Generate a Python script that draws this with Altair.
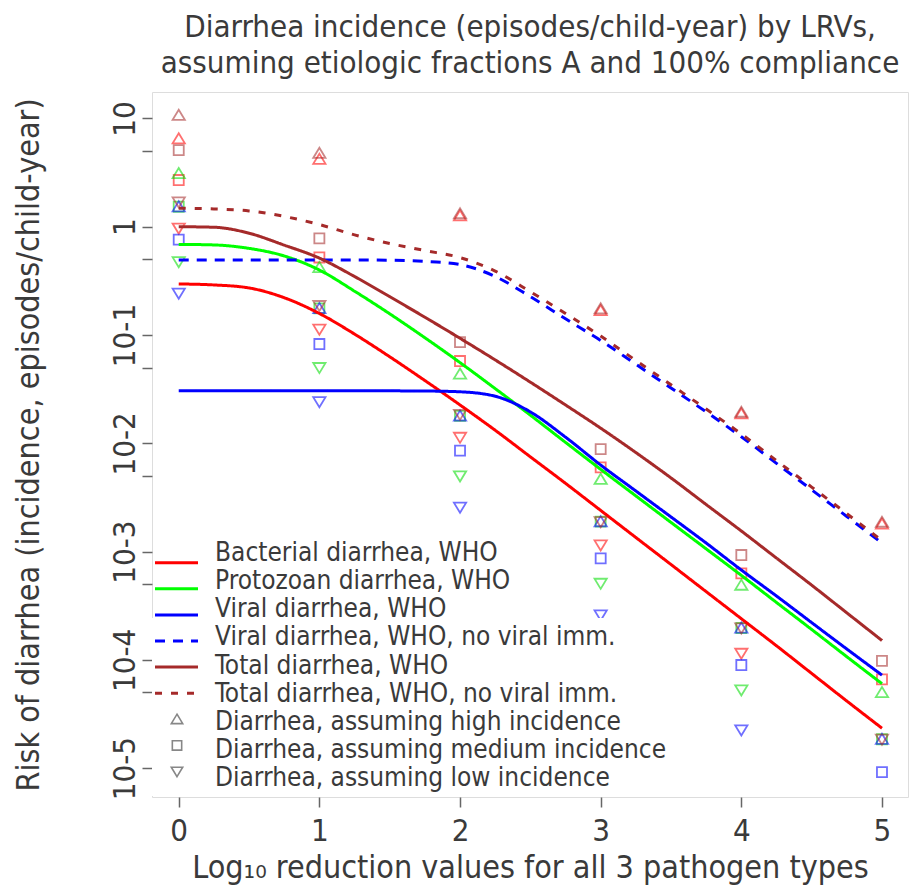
import altair as alt
import pandas as pd

# ---------------------------------------------------------------- data
# Log10 reduction values at which the model curves are read
X_GRID = [0, 0.25, 0.5, 0.75, 1, 1.25, 1.5, 1.75, 2, 2.25, 2.5, 2.75,
          3, 3.25, 3.5, 3.75, 4, 4.25, 4.5, 4.75, 5]

# Incidence (episodes/child-year), WHO model curves
BACTERIAL_WHO = [0.296, 0.290, 0.272, 0.221, 0.158, 0.102, 0.063, 0.038,
                 0.0226, 0.0132, 0.0075, 0.00427, 0.0024, 0.00135, 7.6e-4,
                 4.27e-4, 2.4e-4, 1.35e-4, 7.5e-5, 4.17e-5, 2.34e-5]
PROTOZOAN_WHO = [0.687, 0.679, 0.631, 0.537, 0.398, 0.254, 0.157, 0.0944,
                 0.0556, 0.032, 0.0182, 0.0102, 0.00575, 0.00327, 0.00186,
                 0.00106, 6.03e-4, 3.39e-4, 1.91e-4, 1.07e-4, 6.03e-5]
VIRAL_WHO = [0.0305, 0.0305, 0.0305, 0.0305, 0.0305, 0.0305, 0.0305, 0.0304,
             0.0299, 0.0272, 0.0195, 0.0114, 0.0063, 0.00363, 0.00209,
             0.0012, 6.76e-4, 3.89e-4, 2.21e-4, 1.26e-4, 7.24e-5]
VIRAL_NO_IMM = [0.493, 0.493, 0.493, 0.493, 0.493, 0.493, 0.49, 0.479,
                0.447, 0.347, 0.226, 0.141, 0.0891, 0.0537, 0.0324, 0.0195,
                0.0115, 0.00653, 0.00372, 0.00211, 0.0012]
TOTAL_WHO = [1.0, 0.989, 0.871, 0.676, 0.513, 0.347, 0.226, 0.146, 0.0933,
             0.0589, 0.0367, 0.0226, 0.0138, 0.00822, 0.00479, 0.00272,
             0.00155, 8.71e-4, 4.9e-4, 2.72e-4, 1.51e-4]
TOTAL_NO_IMM = [1.48, 1.46, 1.40, 1.245, 1.047, 0.841, 0.70, 0.603, 0.519,
                0.389, 0.251, 0.158, 0.0977, 0.0582, 0.0347, 0.0207, 0.0122,
                0.00692, 0.00394, 0.00224, 0.00126]

CURVE_NAMES = ["Bacterial diarrhea, WHO", "Protozoan diarrhea, WHO",
               "Viral diarrhea, WHO", "Viral diarrhea, WHO, no viral imm.",
               "Total diarrhea, WHO", "Total diarrhea, WHO, no viral imm."]
CURVE_VALUES = [BACTERIAL_WHO, PROTOZOAN_WHO, VIRAL_WHO, VIRAL_NO_IMM,
                TOTAL_WHO, TOTAL_NO_IMM]

# Scenario estimates at whole log10 reductions (None: not shown)
LRV = [0, 1, 2, 3, 4, 5]
BACTERIAL_HIGH = [6.5, 4.2, 1.26, 0.168, 0.0187, 0.0018]
BACTERIAL_MEDIUM = [2.7, 0.52, 0.0575, 0.006, 6.3e-4, 6.6e-5]
BACTERIAL_LOW = [0.97, 0.113, 0.01135, 0.00115, 1.15e-4, None]
PROTOZOAN_HIGH = [3.1, 0.42, 0.0436, 0.00465, 4.9e-4, 5.0e-5]
PROTOZOAN_MEDIUM = [1.53, 0.176, 0.0179, 0.00189, 1.97e-4, 1.85e-5]
PROTOZOAN_LOW = [0.475, 0.05, 0.005, 5.09e-4, 5.27e-5, None]
VIRAL_HIGH = [1.53, 0.176, 0.0179, 0.00189, 1.97e-4, 1.85e-5]
VIRAL_MEDIUM = [0.76, 0.0826, 0.00855, 8.67e-4, 8.97e-5, 9.2e-6]
VIRAL_LOW = [0.243, 0.0242, 0.00257, 2.6e-4, 2.25e-5, None]
TOTAL_HIGH = [10.7, 4.76, 1.32, 0.175, 0.0194, 0.00187]
TOTAL_MEDIUM = [5.1, 0.78, 0.086, 0.00885, 9.3e-4, 9.8e-5]
TOTAL_LOW = [1.69, 0.187, 0.0185, 0.00189, 1.97e-4, 1.85e-5]

PATHOGENS = ["Bacterial", "Protozoan", "Viral", "Total"]
INCIDENCES = ["high", "medium", "low"]
SCENARIOS = {
    ("Bacterial", "high"): BACTERIAL_HIGH, ("Bacterial", "medium"): BACTERIAL_MEDIUM,
    ("Bacterial", "low"): BACTERIAL_LOW,
    ("Protozoan", "high"): PROTOZOAN_HIGH, ("Protozoan", "medium"): PROTOZOAN_MEDIUM,
    ("Protozoan", "low"): PROTOZOAN_LOW,
    ("Viral", "high"): VIRAL_HIGH, ("Viral", "medium"): VIRAL_MEDIUM,
    ("Viral", "low"): VIRAL_LOW,
    ("Total", "high"): TOTAL_HIGH, ("Total", "medium"): TOTAL_MEDIUM,
    ("Total", "low"): TOTAL_LOW,
}

Y_TICKS = [10, 5, 1, 0.5, 0.1, 0.05, 0.01, 0.005, 1e-3, 5e-4, 1e-4, 5e-5, 1e-5]
X_TICKS = [0, 1, 2, 3, 4, 5]

TITLE_LINES = ["Diarrhea incidence (episodes/child-year) by LRVs,",
               "assuming etiologic fractions A and 100% compliance"]
SYMBOL_LABELS = ["Diarrhea, assuming high incidence",
                 "Diarrhea, assuming medium incidence",
                 "Diarrhea, assuming low incidence"]

# ---------------------------------------------------------------- tables
curves = pd.DataFrame(
    [{"series": n, "order": i, "x": x, "value": v}
     for i, (n, vals) in enumerate(zip(CURVE_NAMES, CURVE_VALUES))
     for x, v in zip(X_GRID, vals)]
)
points = pd.DataFrame(
    [{"pathogen": p, "incidence": inc, "x": x, "value": v}
     for p in PATHOGENS for inc in INCIDENCES
     for x, v in zip(LRV, SCENARIOS[(p, inc)]) if v is not None]
)
legend_lines = pd.DataFrame({"series": CURVE_NAMES, "row": range(6)})
legend_symbols = pd.DataFrame({"incidence": INCIDENCES, "row": [6, 7, 8]})
legend_text = pd.DataFrame({"label": CURVE_NAMES + SYMBOL_LABELS, "row": range(9)})

# ---------------------------------------------------------------- styling
FONT = "'Liberation Sans Narrow', 'DejaVu Sans Condensed', 'Roboto Condensed', Roboto"
TEXT_COLOR = "#3a3a3a"
FS = 31          # tick labels
FS_TITLE = 32    # chart and axis titles
FS_LEGEND = 26

line_colors = ["#ff0000", "#00ff00", "#0000ff", "#0000ff", "#a52a2a", "#a52a2a"]
line_dashes = [[1, 0], [1, 0], [1, 0], [10, 8], [1, 0], [7, 9]]
point_colors = ["#ff0000", "#00dd00", "#0000ff", "#a52a2a"]
shape_paths = ["M0,-0.9L1,0.75L-1,0.75Z",
               "M-0.82,-0.82H0.82V0.82H-0.82Z",
               "M0,0.9L1,-0.75L-1,-0.75Z"]

color_scale = alt.Scale(domain=CURVE_NAMES, range=line_colors)
dash_scale = alt.Scale(domain=CURVE_NAMES, range=line_dashes)
stroke_scale = alt.Scale(domain=PATHOGENS, range=point_colors)
shape_scale = alt.Scale(domain=INCIDENCES, range=shape_paths)

x_enc = alt.X(
    "x:Q",
    scale=alt.Scale(domain=[-0.19, 5.185], nice=False, zero=False),
    axis=alt.Axis(
        values=X_TICKS, grid=False, domain=False, tickSize=10, tickWidth=1.5,
        tickColor="#666666", labelFont=FONT, labelFontSize=FS,
        labelColor=TEXT_COLOR, labelPadding=9,
        title="Log\u2081\u2080 reduction values for all 3 pathogen types",
        titleFont=FONT, titleFontSize=FS_TITLE, titleFontWeight="normal",
        titleColor=TEXT_COLOR, titleY=80, titleBaseline="alphabetic",
    ),
)
label_expr = (
    "datum.value >= 9 ? '10' : "
    "(abs(log(datum.value)/LN10 - round(log(datum.value)/LN10)) > 0.01 ? '' : "
    "(datum.value >= 0.9 ? '1' : '10' + round(log(datum.value)/LN10)))"
)
y_enc = alt.Y(
    "value:Q",
    scale=alt.Scale(type="log", domain=[10 ** -5.266, 10 ** 1.244], nice=False),
    axis=alt.Axis(
        values=Y_TICKS, labelExpr=label_expr, grid=False, domain=False,
        tickSize=10, tickWidth=1.5, tickColor="#666666",
        labelFont=FONT, labelFontSize=FS, labelColor=TEXT_COLOR,
        labelAngle=270, labelAlign="center", labelBaseline="bottom",
        labelPadding=1, labelOverlap=False, labelFlush=False,
        title="Risk of diarrhea (incidence, episodes/child-year)",
        titleFont=FONT, titleFontSize=FS_TITLE, titleFontWeight="normal",
        titleColor=TEXT_COLOR, titleAngle=270, titleX=-124, titleY=352.5,
        titleAlign="center", titleBaseline="middle",
    ),
)

point_layer = alt.Chart(points).mark_point(
    filled=False, size=150, strokeWidth=1.8, strokeOpacity=0.8
).encode(
    x=x_enc, y=y_enc,
    stroke=alt.Stroke("pathogen:N", scale=stroke_scale, legend=None),
    shape=alt.Shape("incidence:N", scale=shape_scale, legend=None),
)

line_layer = alt.Chart(curves).mark_line(
    strokeWidth=3, interpolate="monotone", clip=True
).encode(
    x=x_enc, y=y_enc,
    color=alt.Color("series:N", scale=color_scale, legend=None),
    strokeDash=alt.StrokeDash("series:N", scale=dash_scale, legend=None),
    order="x:Q",
)

# legend background, covering the lower left corner of the plot
legend_bg = alt.Chart(pd.DataFrame({"k": [0]})).mark_rect(color="white").encode(
    x=alt.value(0), x2=alt.value(540), y=alt.value(526), y2=alt.value(704)
)

legend_rule = alt.Chart(legend_lines).transform_calculate(
    ly="470.7 + 26.1 * datum.row"
).mark_rule(strokeWidth=3).encode(
    x=alt.value(3), x2=alt.value(46),
    y=alt.Y("ly:Q", scale=None, axis=None),
    color=alt.Color("series:N", scale=color_scale, legend=None),
    strokeDash=alt.StrokeDash("series:N", scale=dash_scale, legend=None),
)

legend_shape = alt.Chart(legend_symbols).transform_calculate(
    ly="470.7 + 26.1 * datum.row"
).mark_point(filled=False, size=130, strokeWidth=1.6, color="#555555").encode(
    x=alt.value(25),
    y=alt.Y("ly:Q", scale=None, axis=None),
    shape=alt.Shape("incidence:N", scale=shape_scale, legend=None),
)

legend_label = alt.Chart(legend_text).transform_calculate(
    ly="468.7 + 28.2 * datum.row"
).mark_text(
    align="left", baseline="alphabetic", font=FONT, fontSize=FS_LEGEND,
    color=TEXT_COLOR,
).encode(
    x=alt.value(63),
    y=alt.Y("ly:Q", scale=None, axis=None),
    text="label:N",
)

chart = alt.layer(
    point_layer, line_layer, legend_bg, legend_rule, legend_shape, legend_label
).properties(
    width=756, height=705,
    autosize=alt.AutoSizeParams(type="none"),
    padding={"left": 152, "top": 92, "right": 2, "bottom": 93},
    title=alt.TitleParams(
        text=TITLE_LINES, font=FONT, fontSize=31, fontWeight="normal",
        color=TEXT_COLOR, anchor="middle", lineHeight=36, offset=12,
    ),
).configure_view(
    stroke="#808080", strokeWidth=2
).configure(background="white")

chart.save("out.html", embed_options={"renderer": "svg", "actions": False})
